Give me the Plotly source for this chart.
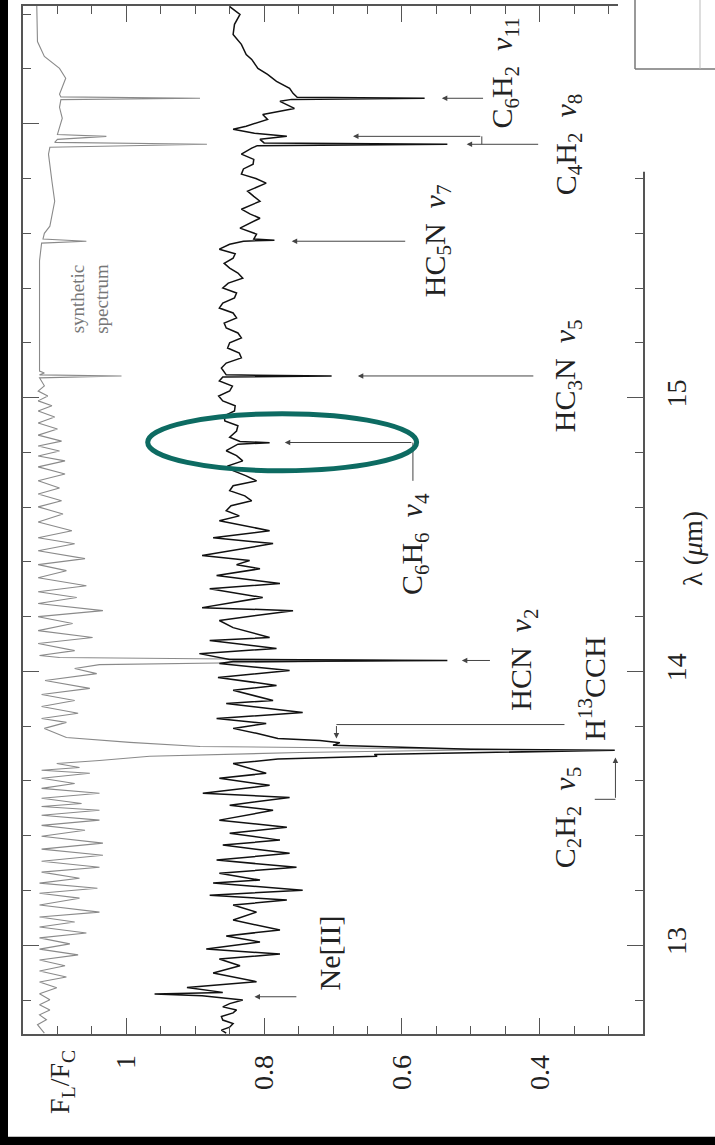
import plotly.graph_objects as go

# ---------------- data ----------------
obs_wl = [16.428, 16.399, 16.363, 16.326, 16.290, 16.253, 16.235, 16.202, 16.180, 16.155,
          16.129, 16.111, 16.097, 16.093, 16.089, 16.082, 16.056, 16.034, 16.016, 15.991,
          15.980, 15.965, 15.954, 15.943, 15.930, 15.925, 15.920, 15.911, 15.889, 15.870,
          15.852, 15.835, 15.816, 15.800, 15.783, 15.754, 15.735, 15.717, 15.688, 15.670,
          15.655, 15.619, 15.597, 15.579, 15.575, 15.571, 15.560, 15.542, 15.525, 15.509,
          15.490, 15.473, 15.455, 15.436, 15.418, 15.400, 15.382, 15.364, 15.345, 15.327,
          15.309, 15.291, 15.272, 15.254, 15.236, 15.218, 15.200, 15.181, 15.163, 15.145,
          15.126, 15.108, 15.083, 15.079, 15.075, 15.061, 15.042, 15.024, 15.006, 14.988,
          14.970, 14.951, 14.933, 14.915, 14.897, 14.878, 14.855, 14.840, 14.835, 14.830,
          14.806, 14.788, 14.769, 14.751, 14.733, 14.714, 14.696, 14.678, 14.660, 14.641,
          14.623, 14.605, 14.587, 14.568, 14.550, 14.514, 14.488, 14.467, 14.423, 14.405,
          14.390, 14.375, 14.350, 14.321, 14.302, 14.270, 14.233, 14.222, 14.186, 14.160,
          14.124, 14.113, 14.084, 14.065, 14.044, 14.040, 14.036, 14.029, 14.003, 13.978,
          13.949, 13.931, 13.894, 13.883, 13.850, 13.828, 13.810, 13.792, 13.774, 13.755,
          13.748, 13.740, 13.730, 13.716, 13.712, 13.706, 13.697, 13.690, 13.680, 13.664,
          13.628, 13.610, 13.584, 13.555, 13.540, 13.511, 13.493, 13.457, 13.431, 13.409,
          13.384, 13.366, 13.336, 13.311, 13.285, 13.263, 13.238, 13.227, 13.201, 13.183,
          13.165, 13.147, 13.121, 13.092, 13.056, 13.034, 13.012, 12.986, 12.968, 12.950,
          12.925, 12.899, 12.867, 12.846, 12.828, 12.822, 12.816, 12.800, 12.787, 12.775,
          12.764, 12.753, 12.740, 12.727, 12.714, 12.701, 12.690, 12.679]
obs_flux = [0.850, 0.835, 0.843, 0.845, 0.833, 0.826, 0.818, 0.809, 0.795, 0.782,
            0.763, 0.758, 0.752, 0.567, 0.760, 0.777, 0.756, 0.802, 0.795, 0.826,
            0.845, 0.814, 0.767, 0.806, 0.800, 0.534, 0.810, 0.818, 0.833, 0.815,
            0.816, 0.830, 0.833, 0.812, 0.797, 0.824, 0.815, 0.806, 0.833, 0.820,
            0.806, 0.835, 0.811, 0.815, 0.785, 0.830, 0.850, 0.865, 0.842, 0.845,
            0.858, 0.850, 0.838, 0.831, 0.852, 0.860, 0.840, 0.843, 0.860, 0.865,
            0.845, 0.840, 0.858, 0.855, 0.838, 0.833, 0.850, 0.853, 0.836, 0.833,
            0.855, 0.862, 0.855, 0.702, 0.860, 0.865, 0.846, 0.850, 0.866, 0.860,
            0.842, 0.843, 0.858, 0.857, 0.838, 0.840, 0.850, 0.835, 0.792, 0.838,
            0.855, 0.840, 0.831, 0.852, 0.845, 0.826, 0.811, 0.845, 0.850, 0.828,
            0.818, 0.848, 0.855, 0.836, 0.865, 0.792, 0.874, 0.787, 0.890, 0.821,
            0.840, 0.806, 0.869, 0.777, 0.879, 0.802, 0.890, 0.758, 0.865, 0.845,
            0.792, 0.879, 0.782, 0.894, 0.850, 0.534, 0.845, 0.865, 0.763, 0.867,
            0.782, 0.845, 0.787, 0.855, 0.744, 0.869, 0.797, 0.845, 0.811, 0.780,
            0.719, 0.690, 0.700, 0.500, 0.291, 0.450, 0.640, 0.636, 0.780, 0.845,
            0.797, 0.865, 0.792, 0.889, 0.763, 0.850, 0.787, 0.865, 0.767, 0.850,
            0.777, 0.860, 0.763, 0.869, 0.753, 0.865, 0.806, 0.874, 0.744, 0.879,
            0.767, 0.845, 0.811, 0.845, 0.777, 0.855, 0.806, 0.884, 0.777, 0.865,
            0.835, 0.874, 0.811, 0.912, 0.860, 0.959, 0.890, 0.831, 0.850, 0.860,
            0.840, 0.845, 0.862, 0.860, 0.845, 0.850, 0.862, 0.855]

syn_wl = [16.430, 16.300, 16.246, 16.202, 16.166, 16.126, 16.108, 16.098, 16.093, 16.088,
          16.060, 16.020, 15.991, 15.961, 15.954, 15.943, 15.932, 15.925, 15.914, 15.889,
          15.790, 15.717, 15.626, 15.600, 15.579, 15.571, 15.564, 15.500, 15.353, 15.207,
          15.097, 15.090, 15.083, 15.079, 15.072, 15.043, 15.024, 15.006, 14.988, 14.970,
          14.951, 14.929, 14.907, 14.885, 14.863, 14.841, 14.823, 14.805, 14.787, 14.769,
          14.747, 14.721, 14.696, 14.670, 14.648, 14.623, 14.601, 14.575, 14.546, 14.514,
          14.488, 14.466, 14.441, 14.412, 14.390, 14.368, 14.342, 14.313, 14.291, 14.270,
          14.248, 14.222, 14.200, 14.175, 14.149, 14.124, 14.102, 14.076, 14.058, 14.051,
          14.040, 14.025, 14.011, 13.992, 13.967, 13.938, 13.916, 13.894, 13.872, 13.847,
          13.828, 13.814, 13.792, 13.759, 13.741, 13.726, 13.715, 13.704, 13.690, 13.675,
          13.664, 13.649, 13.639, 13.628, 13.610, 13.591, 13.573, 13.555, 13.537, 13.518,
          13.507, 13.493, 13.475, 13.457, 13.438, 13.420, 13.398, 13.373, 13.351, 13.329,
          13.307, 13.285, 13.267, 13.245, 13.227, 13.208, 13.190, 13.172, 13.147, 13.121,
          13.103, 13.085, 13.067, 13.045, 13.027, 13.005, 12.986, 12.965, 12.946, 12.925,
          12.906, 12.884, 12.866, 12.845, 12.823, 12.801, 12.783, 12.764, 12.746, 12.728,
          12.710, 12.679]
syn_flux = [1.130, 1.129, 1.119, 1.097, 1.088, 1.094, 1.097, 1.095, 0.893, 1.095,
            1.097, 1.093, 1.097, 1.100, 1.029, 1.100, 1.104, 0.883, 1.111, 1.113,
            1.108, 1.104, 1.111, 1.119, 1.121, 1.058, 1.123, 1.126, 1.126, 1.126,
            1.126, 1.119, 1.126, 1.007, 1.126, 1.119, 1.128, 1.114, 1.128, 1.108,
            1.128, 1.104, 1.128, 1.100, 1.128, 1.094, 1.128, 1.097, 1.128, 1.089,
            1.128, 1.089, 1.128, 1.097, 1.128, 1.094, 1.128, 1.092, 1.128, 1.079,
            1.128, 1.075, 1.128, 1.060, 1.128, 1.087, 1.128, 1.058, 1.128, 1.072,
            1.128, 1.034, 1.128, 1.078, 1.128, 1.049, 1.128, 1.075, 1.126, 1.097,
            0.603, 1.039, 1.075, 1.043, 1.118, 1.053, 1.123, 1.075, 1.123, 1.070,
            1.123, 1.087, 1.119, 1.087, 0.995, 0.893, 0.458, 0.748, 0.966, 1.039,
            1.101, 1.068, 1.123, 1.053, 1.123, 1.075, 1.123, 1.039, 1.123, 1.065,
            1.123, 1.039, 1.123, 1.039, 1.123, 1.060, 1.123, 1.034, 1.123, 1.034,
            1.123, 1.039, 1.123, 1.068, 1.126, 1.042, 1.126, 1.068, 1.126, 1.039,
            1.126, 1.075, 1.126, 1.058, 1.126, 1.082, 1.126, 1.070, 1.126, 1.089,
            1.126, 1.087, 1.126, 1.101, 1.126, 1.111, 1.126, 1.111, 1.126, 1.116,
            1.129, 1.119]

flux_ticks = [0.4, 0.6, 0.8, 1.0]
flux_ticktext = ["0.4", "0.6", "0.8", "1"]
wl_ticks = [13, 14, 15, 16]
wl_ticktext = ["13", "14", "15", "16"]

# line identifications: label, label position (flux, wavelength)
labels = [
    ("C<sub>6</sub>H<sub>2</sub>  <i>ν</i><sub>11</sub>", 0.451, 16.185),
    ("C<sub>4</sub>H<sub>2</sub>  <i>ν</i><sub>8</sub>", 0.359, 15.925),
    ("HC<sub>5</sub>N  <i>ν</i><sub>7</sub>", 0.549, 15.571),
    ("HC<sub>3</sub>N  <i>ν</i><sub>5</sub>", 0.360, 15.079),
    ("C<sub>6</sub>H<sub>6</sub>  <i>ν</i><sub>4</sub>", 0.582, 14.466),
    ("HCN  <i>ν</i><sub>2</sub>", 0.424, 14.043),
    ("H<sup>13</sup>CCH", 0.324, 13.937),
    ("C<sub>2</sub>H<sub>2</sub>  <i>ν</i><sub>5</sub>", 0.360, 13.468),
    ("Ne[II]", 0.705, 12.972),
]
# arrows: (tail flux, tail wl, head flux, head wl)
arrows = [
    (0.751, 12.812, 0.814, 12.812),   # Ne II
    (0.290, 13.533, 0.290, 13.686),   # C2H2
    (0.695, 13.806, 0.695, 13.755),   # H13CCH
    (0.470, 14.040, 0.513, 14.040),   # HCN
    (0.584, 14.836, 0.770, 14.836),   # C6H6
    (0.407, 15.079, 0.664, 15.079),   # HC3N
    (0.593, 15.571, 0.760, 15.571),   # HC5N
    (0.400, 15.925, 0.506, 15.925),   # C4H2
    (0.484, 15.954, 0.671, 15.954),   # C4H2 second
    (0.480, 16.093, 0.542, 16.093),   # C6H2
]
# connector segments (flux0, wl0, flux1, wl1)
segments = [
    (0.320, 13.533, 0.290, 13.533),
    (0.364, 13.806, 0.695, 13.806),
    (0.584, 14.696, 0.584, 14.836),
    (0.484, 15.925, 0.484, 15.954),
]

FONT = "Liberation Serif"
AX = "#555555"

fig = go.Figure()
fig.add_trace(go.Scatter(x=syn_flux, y=syn_wl, mode="lines",
                         line=dict(color="#8a8a8a", width=1.1), hoverinfo="skip"))
fig.add_trace(go.Scatter(x=obs_flux, y=obs_wl, mode="lines",
                         line=dict(color="#111111", width=1.5), hoverinfo="skip"))

for t, fx, wl in labels:
    fig.add_annotation(x=fx, y=wl, xref="x", yref="y", text=t, showarrow=False,
                       textangle=-90, font=dict(family=FONT, size=30, color="#222"),
                       xanchor="center", yanchor="middle")

for tx, ty, hx, hy in arrows:
    fig.add_annotation(x=hx, y=hy, ax=tx, ay=ty, xref="x", yref="y", axref="x", ayref="y",
                       text="", showarrow=True, arrowhead=2, arrowsize=1.1,
                       arrowwidth=1, arrowcolor="#444")

for x0, y0, x1, y1 in segments:
    fig.add_shape(type="line", x0=x0, y0=y0, x1=x1, y1=y1, xref="x", yref="y",
                  line=dict(color="#444", width=1))

fig.add_annotation(x=1.053, y=15.36, xref="x", yref="y",
                   text="synthetic<br>spectrum", showarrow=False, textangle=-90,
                   font=dict(family=FONT, size=19, color="#777"), align="center",
                   xanchor="center", yanchor="middle")

# highlight ellipse
fig.add_shape(type="circle", x0=0.969, x1=0.5786, y0=14.733, y1=14.941, xref="x", yref="y",
              line=dict(color="#0d6b62", width=5))

# axis titles
fig.add_annotation(x=(62 - 23) / 620, y=(1034 - 1082) / 1030, xref="paper", yref="paper",
                   text="F<sub>L</sub>/F<sub>C</sub>", showarrow=False, textangle=-90,
                   xanchor="center", yanchor="middle",
                   font=dict(family=FONT, size=28, color="#222"))
fig.add_annotation(x=(693 - 23) / 620, y=(1034 - 548) / 1030, xref="paper", yref="paper",
                   text="λ (<i>μ</i>m)", showarrow=False, textangle=-90,
                   xanchor="center", yanchor="middle",
                   font=dict(family=FONT, size=28, color="#222"))

# page edges (black strips) and the covered top-right corner with a neighbouring frame
fig.add_shape(type="rect", xref="paper", yref="paper", x0=-0.1, x1=(8 - 23) / 620,
              y0=-0.2, y1=1.1, fillcolor="black", line_width=0, layer="above")
fig.add_shape(type="rect", xref="paper", yref="paper", x0=-0.1, x1=1.2,
              y0=-0.2, y1=(1034 - 1137) / 1030, fillcolor="black", line_width=0, layer="above")
fig.add_shape(type="rect", xref="paper", yref="paper", x0=(618 - 23) / 620, x1=1.2,
              y0=(1034 - 170) / 1030, y1=1.1, fillcolor="white", line_width=0, layer="above")
fig.add_shape(type="line", xref="paper", yref="paper", x0=(635 - 23) / 620, x1=(635 - 23) / 620,
              y0=(1034 - 67) / 1030, y1=1.1, line=dict(color="#777", width=1.5), layer="above")
fig.add_shape(type="line", xref="paper", yref="paper", x0=(635 - 23) / 620, x1=1.2,
              y0=(1034 - 67) / 1030, y1=(1034 - 67) / 1030, line=dict(color="#777", width=1.5),
              layer="above")
fig.add_shape(type="line", xref="paper", yref="paper", x0=(700 - 23) / 620, x1=(700 - 23) / 620,
              y0=(1034 - 67) / 1030, y1=1.1, line=dict(color="#bbb", width=1), layer="above")

fig.update_layout(
    width=715, height=1145,
    margin=dict(l=23, r=72, t=4, b=111),
    paper_bgcolor="white", plot_bgcolor="white",
    showlegend=False,
    font=dict(family=FONT, size=28, color="#222"),
    xaxis=dict(range=[1.15, 0.25], tickvals=flux_ticks, ticktext=flux_ticktext,
               tickangle=-90, ticks="inside", ticklen=16, tickwidth=1.2, tickcolor=AX,
               showline=True, linecolor=AX, linewidth=1.5, mirror="ticks",
               showgrid=False, zeroline=False, ticklabelstandoff=8,
               tickfont=dict(family=FONT, size=28, color="#222"),
               minor=dict(dtick=0.05, ticks="inside", ticklen=8, tickcolor=AX, showgrid=False)),
    yaxis=dict(range=[12.676, 16.43], side="right", tickvals=wl_ticks, ticktext=wl_ticktext,
               tickangle=-90, ticks="inside", ticklen=16, tickwidth=1.2, tickcolor=AX,
               showline=True, linecolor=AX, linewidth=1.5, mirror="ticks",
               showgrid=False, zeroline=False, ticklabelstandoff=8,
               tickfont=dict(family=FONT, size=28, color="#222"),
               minor=dict(dtick=0.2, ticks="inside", ticklen=8, tickcolor=AX, showgrid=False)),
)

fig.write_html("out.html")
